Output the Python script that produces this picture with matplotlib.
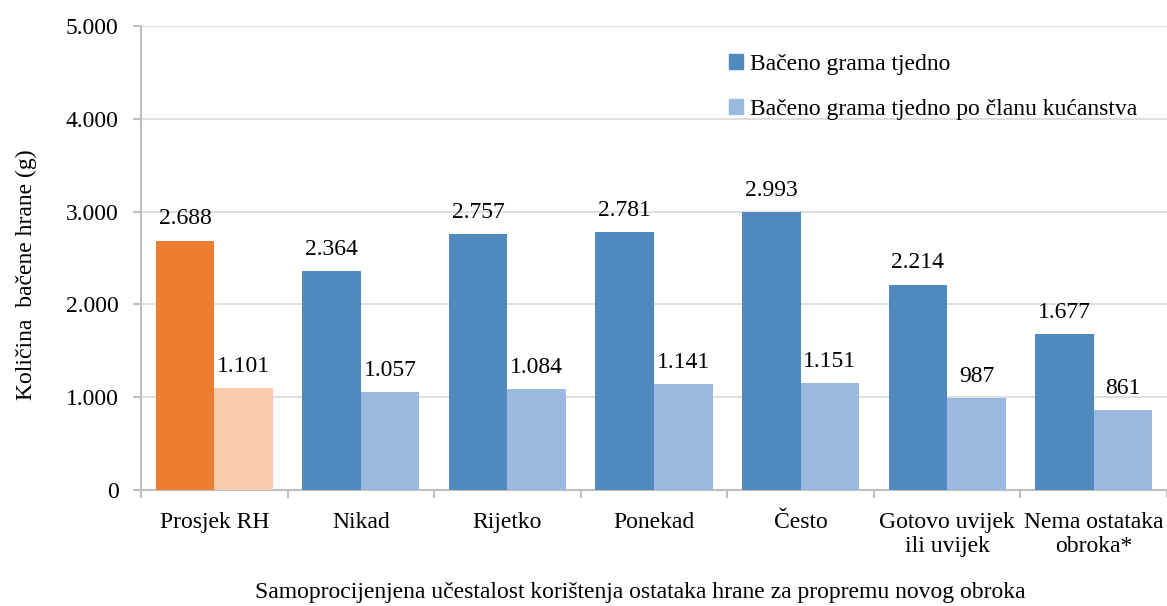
import matplotlib.pyplot as plt
import numpy as np
from matplotlib.ticker import FuncFormatter
from matplotlib.patches import Patch

plt.rcParams['font.family'] = ['Liberation Serif', 'DejaVu Serif']

# data
categories = ["Prosjek RH", "Nikad", "Rijetko", "Ponekad", "Često",
              "Gotovo uvijek\nili uvijek", "Nema ostataka\nobroka*"]
weekly = [2688, 2364, 2757, 2781, 2993, 2214, 1677]
per_member = [1101, 1057, 1084, 1141, 1151, 987, 861]
series_names = ["Bačeno grama tjedno", "Bačeno grama tjedno po članu kućanstva"]

c_dark = ["#ED7D31"] + ["#4F89BE"] * 6
c_light = ["#F8CBAD"] + ["#9BBAE0"] * 6
FS = 17

fig = plt.figure(figsize=(11.67, 6.06), dpi=100)
ax = fig.add_axes([141 / 1167, 1 - 490 / 606, 1 - 141 / 1167, (490 - 26) / 606])

x = np.arange(len(categories))
w = 0.4
b1 = ax.bar(x - w / 2, weekly, w, color=c_dark, zorder=3)
b2 = ax.bar(x + w / 2, per_member, w, color=c_light, zorder=3)


def fmt(v):
    return f"{int(v):,}".replace(",", ".")


for bars, vals in ((b1, weekly), (b2, per_member)):
    for r, v in zip(bars, vals):
        ax.annotate(fmt(v), (r.get_x() + r.get_width() / 2, v),
                    xytext=(0, 8), textcoords="offset points",
                    ha="center", va="bottom", fontsize=FS)

ax.set_xlim(-0.5, len(categories) - 0.5)
ax.set_ylim(0, 5000)
ax.set_yticks(np.arange(0, 5001, 1000))
ax.yaxis.set_major_formatter(FuncFormatter(lambda v, p: fmt(v)))
ax.set_xticks(x)
ax.set_xticklabels(categories, fontsize=FS, linespacing=1.2)
ax.set_xticks(np.arange(-0.5, len(categories), 1), minor=True)
ax.tick_params(axis="x", which="major", length=0, pad=16)
ax.tick_params(axis="x", which="minor", length=6, width=1.5, color="#BFBFBF")
ax.tick_params(axis="y", length=6, width=1.5, color="#BFBFBF", labelsize=FS, pad=10)

ax.grid(axis="y", color="#D9D9D9", linewidth=1.2, zorder=0)
for s in ("top", "right"):
    ax.spines[s].set_visible(False)
for s in ("left", "bottom"):
    ax.spines[s].set_color("#BFBFBF")
    ax.spines[s].set_linewidth(1.5)

ax.set_ylabel("Količina  bačene hrane (g)", fontsize=FS)
ax.yaxis.set_label_coords(-0.101, 0.463)
ax.set_xlabel("Samoprocijenjena učestalost korištenja ostataka hrane za propremu novog obroka",
              fontsize=FS)
ax.xaxis.set_label_coords(0.487, -0.198)

handles = [Patch(color="#4F89BE"), Patch(color="#9BBAE0")]
ax.legend(handles, series_names, loc="upper left", bbox_to_anchor=(0.552, 0.985),
          frameon=False, fontsize=FS, handlelength=0.6, handleheight=0.6,
          handletextpad=0.3, labelspacing=1.0)

fig.savefig("out.png", dpi=100)
